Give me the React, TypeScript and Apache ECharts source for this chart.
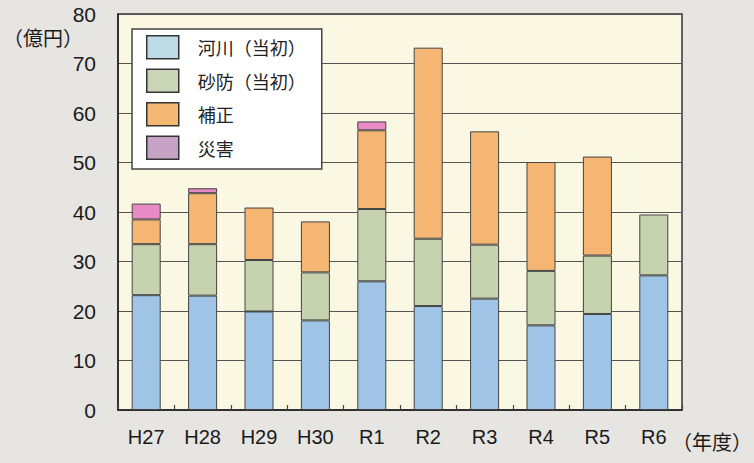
import React, { useEffect, useRef } from "react";
import * as echarts from "echarts";

const categories = ["H27", "H28", "H29", "H30", "R1", "R2", "R3", "R4", "R5", "R6"];
const kasen = [23.2, 23.1, 19.9, 18.1, 26.0, 21.0, 22.5, 17.1, 19.4, 27.2];
const sabo = [10.3, 10.4, 10.4, 9.7, 14.6, 13.6, 10.9, 11.0, 11.8, 12.3];
const hosei = [5.0, 10.3, 10.6, 10.3, 15.9, 38.6, 22.9, 22.0, 20.0, null];
const saigai = [3.2, 1.0, null, null, 1.8, null, null, null, null, null];
const seriesNames = ["河川（当初）", "砂防（当初）", "補正", "災害"];
const barColors = ["#9fc4e6", "#c6d3af", "#f6b673", "#e88ac4"];
const legendColors = ["#bddce6", "#c9d5b6", "#f5b872", "#c6a2c4"];

const NUM_FONT = "'Liberation Sans Narrow', 'Arial Narrow', 'Liberation Sans', sans-serif";
const CJK_FONT = "'Noto Sans CJK JP', sans-serif";

export default function App() {
  const ref = useRef<HTMLDivElement>(null);
  useEffect(() => {
    if (!ref.current) return;
    const chart = echarts.init(ref.current, null, { renderer: "svg" });
    const dataSets = [kasen, sabo, hosei, saigai];
    chart.setOption({
      animation: false,
      backgroundColor: "#e7e5e2",
      grid: {
        left: 118,
        right: 72,
        top: 14,
        bottom: 53,
        show: true,
        backgroundColor: "#faf8e3",
        borderColor: "#333",
        borderWidth: 1.5,
      },
      legend: {
        orient: "vertical",
        left: 132,
        top: 29,
        padding: [6, 16, 9, 14],
        itemWidth: 32,
        itemHeight: 23,
        itemGap: 9,
        backgroundColor: "#ffffff",
        borderColor: "#444",
        borderWidth: 1.5,
        borderRadius: 0,
        selectedMode: false,
        textStyle: { fontSize: 18, fontFamily: CJK_FONT, color: "#222", padding: [0, 0, 0, 14] },
        data: seriesNames.map((n, i) => ({
          name: n,
          icon: "rect",
          itemStyle: { color: legendColors[i], borderColor: "#333", borderWidth: 1.5 },
        })),
      },
      xAxis: {
        type: "category",
        data: categories,
        axisLine: { lineStyle: { color: "#222", width: 1.5 } },
        axisTick: { show: true, inside: true, length: 5, lineStyle: { color: "#444", width: 1.2 } },
        axisLabel: { fontSize: 20, color: "#1a1a1a", fontFamily: NUM_FONT, margin: 17 },
      },
      yAxis: {
        type: "value",
        min: 0,
        max: 80,
        interval: 10,
        axisLine: { show: true, lineStyle: { color: "#222", width: 1.5 } },
        axisTick: { show: false },
        axisLabel: { fontSize: 21, color: "#1a1a1a", fontFamily: NUM_FONT, margin: 22 },
        splitLine: { lineStyle: { color: "#555", width: 1.2 } },
      },
      graphic: [
        { type: "text", left: 3, top: 27, style: { text: "（億円）", font: "20px " + CJK_FONT, fill: "#1a1a1a" } },
        { type: "text", left: 672, top: 431, style: { text: "（年度）", font: "20px " + CJK_FONT, fill: "#1a1a1a" } },
      ],
      series: dataSets.map((d, i) => ({
        name: seriesNames[i],
        type: "bar",
        stack: "total",
        barWidth: 29,
        data: d.map((v) => (v === null ? "-" : v)),
        itemStyle: { color: barColors[i], borderColor: "#444", borderWidth: 1 },
      })),
    });
    return () => chart.dispose();
  }, []);
  return (
    <div
      ref={ref}
      style={{ position: "fixed", left: 0, top: 0, width: 754, height: 463 }}
    />
  );
}
